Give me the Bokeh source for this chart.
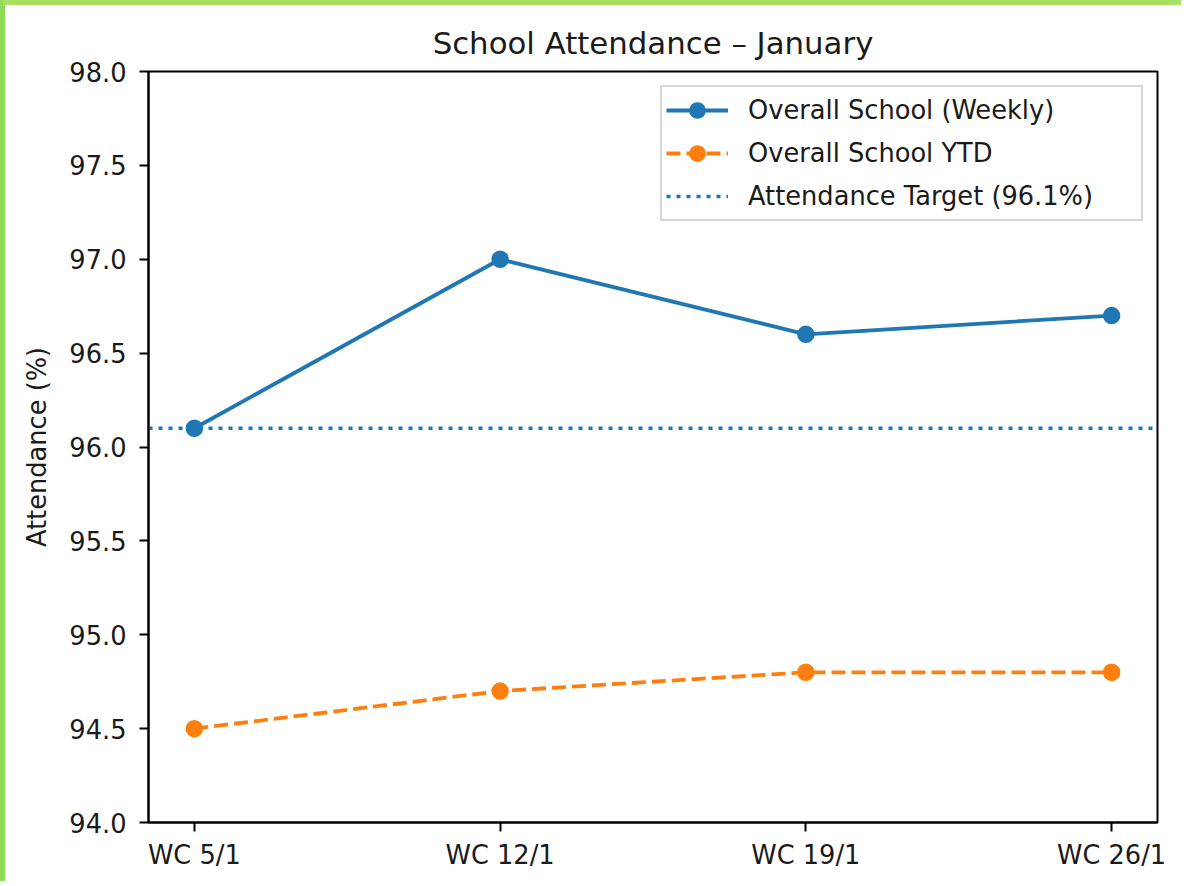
from bokeh.plotting import figure
from bokeh.models import Range1d, FixedTicker, NumeralTickFormatter, Legend, LegendItem
from bokeh.embed import file_html
from bokeh.resources import INLINE

# ---- data ----
weeks = ["WC 5/1", "WC 12/1", "WC 19/1", "WC 26/1"]
weekly = [96.1, 97.0, 96.6, 96.7]
ytd = [94.5, 94.7, 94.8, 94.8]
target = 96.1
y_ticks = [94.0, 94.5, 95.0, 95.5, 96.0, 96.5, 97.0, 97.5, 98.0]

x_idx = list(range(len(weeks)))
x_start, x_end = -0.15, len(weeks) - 1 + 0.15

BLUE = "#1f77b4"
ORANGE = "#ff7f0e"
FONT = "DejaVu Sans"

p = figure(width=1181, height=881, output_backend="svg", toolbar_location=None,
           x_range=Range1d(x_start, x_end), y_range=Range1d(94.0, 98.0),
           title="School Attendance \u2013 January",
           min_border_left=143, min_border_right=29, min_border_top=66, min_border_bottom=64)
p.styles = {"margin": "0px",
            "border-left": "5px solid #8fdb58",
            "border-top": "5px solid #a9df62"}

p.title.text_font = FONT
p.title.text_font_size = "30.8px"
p.title.text_font_style = "normal"
p.title.text_color = "#1a1a1a"
p.title.align = "center"
p.title.standoff = 22

p.xgrid.visible = False
p.ygrid.visible = False
p.outline_line_color = "black"
p.outline_line_width = 2
p.background_fill_color = "white"
p.border_fill_color = "white"

for ax in (p.xaxis[0], p.yaxis[0]):
    ax.axis_line_color = "black"
    ax.axis_line_width = 2
    ax.major_tick_line_color = "black"
    ax.major_tick_line_width = 2
    ax.major_tick_out = 9
    ax.major_tick_in = 0
    ax.minor_tick_line_color = None
    ax.major_label_text_font = FONT
    ax.major_label_text_font_size = "25.7px"
    ax.major_label_text_color = "#1a1a1a"

p.xaxis.ticker = FixedTicker(ticks=x_idx)
p.xaxis.major_label_overrides = {i: w for i, w in enumerate(weeks)}
p.xaxis.major_label_standoff = 8

p.yaxis.ticker = FixedTicker(ticks=y_ticks)
p.yaxis.formatter = NumeralTickFormatter(format="0.0")
p.yaxis.major_label_standoff = 13
p.yaxis.axis_label = "Attendance (%)"
p.yaxis.axis_label_text_font = FONT
p.yaxis.axis_label_text_font_size = "25.7px"
p.yaxis.axis_label_text_font_style = "normal"
p.yaxis.axis_label_text_color = "#1a1a1a"
p.yaxis.axis_label_standoff = 14

# target line
t_line = p.line(x=[x_start, x_end], y=[target, target], line_color=BLUE,
                line_width=3.5, line_dash="4 6")

# weekly
w_line = p.line(x=x_idx, y=weekly, line_color=BLUE, line_width=3.8)
w_pts = p.scatter(x=x_idx, y=weekly, marker="circle", size=16,
                  fill_color=BLUE, line_color=BLUE, line_width=1.5)

# ytd
y_line = p.line(x=x_idx, y=ytd, line_color=ORANGE, line_width=3.8, line_dash="14 6")
y_pts = p.scatter(x=x_idx, y=ytd, marker="circle", size=16,
                  fill_color=ORANGE, line_color=ORANGE, line_width=1.5)

legend = Legend(items=[
    LegendItem(label="Overall School (Weekly)", renderers=[w_line, w_pts]),
    LegendItem(label="Overall School YTD", renderers=[y_line, y_pts]),
    LegendItem(label="Attendance Target (96.1%)", renderers=[t_line]),
], location="top_right")
legend.margin = 14
legend.padding = 4
legend.spacing = 5
legend.glyph_width = 62
legend.glyph_height = 38
legend.label_height = 38
legend.label_width = 389
legend.label_standoff = 20
legend.label_text_font = FONT
legend.label_text_font_size = "25.7px"
legend.label_text_color = "#1a1a1a"
legend.border_line_color = "#cccccc"
legend.border_line_width = 2
legend.border_line_alpha = 0.8
legend.background_fill_color = "white"
legend.background_fill_alpha = 0.8
p.add_layout(legend, "center")

open("out.html", "w").write(file_html(p, INLINE))
